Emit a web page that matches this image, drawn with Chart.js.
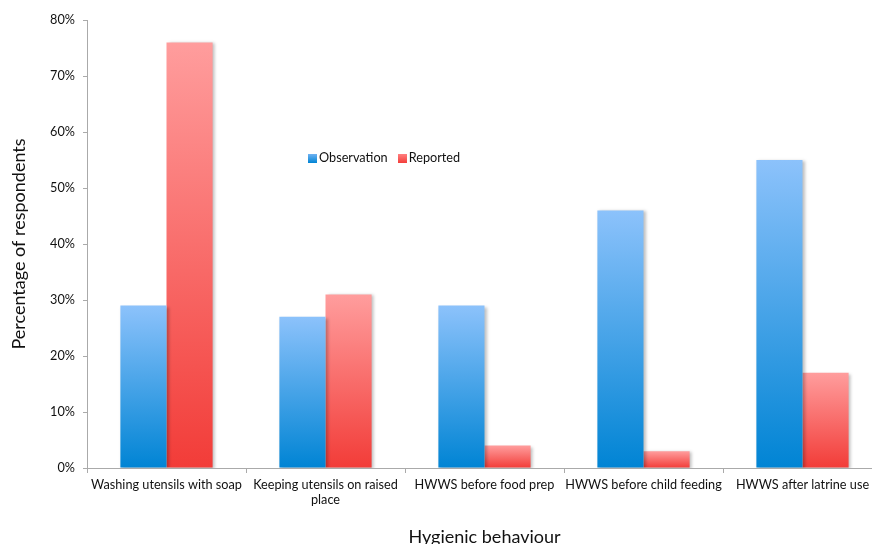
<!DOCTYPE html>
<html>
<head>
<meta charset="utf-8">
<script src="https://cdn.jsdelivr.net/npm/chart.js@4.4.1/dist/chart.umd.min.js"></script>
<style>
    html, body { margin: 0; padding: 0; background: #fff; }
    body { width: 872px; height: 544px; overflow: hidden; position: relative; }
    #wrap { position: absolute; left: 0; top: 0; width: 890px; height: 544px; }
    #legend { position: absolute; left: 308px; top: 149px; font: 12.7px Lato, sans-serif; color: #111; display: flex; gap: 10px; }
    #legend span.box { display: inline-block; width: 9px; height: 9px; margin-right: 2px; vertical-align: -1px; }
</style>
</head>
<body>
<div id="wrap"><canvas id="chart" width="890" height="544"></canvas></div>
<div id="legend">
    <div><span class="box" style="background: linear-gradient(#6fb2f2, #0084d4)"></span>Observation</div>
    <div><span class="box" style="background: linear-gradient(#ff8080, #f33d3a)"></span>Reported</div>
</div>
<script>
// Hygienic behaviour: observed vs reported
const categories = [
    'Washing utensils with soap',
    ['Keeping utensils on raised', 'place'],
    'HWWS before food prep',
    'HWWS before child feeding',
    'HWWS after latrine use'
];
const observation = [29, 27, 29, 46, 55];
const reported = [76, 31, 4, 3, 17];
const yTicks = [0, 10, 20, 30, 40, 50, 60, 70, 80];

function barGradient(top, bottom) {
    return (context) => {
        const chart = context.chart;
        const y = chart.scales.y;
        if (!y || context.parsed === undefined) return bottom;
        const yTop = y.getPixelForValue(context.parsed.y);
        const yBase = y.getPixelForValue(0);
        if (!isFinite(yTop) || !isFinite(yBase) || yTop === yBase) return bottom;
        const g = chart.ctx.createLinearGradient(0, yTop, 0, yBase);
        g.addColorStop(0, top);
        g.addColorStop(1, bottom);
        return g;
    };
}

const shadowPlugin = {
    id: 'barShadow',
    beforeDatasetsDraw(chart) {
        const ctx = chart.ctx;
        ctx.save();
        ctx.shadowColor = 'rgba(0,0,0,0.25)';
        ctx.shadowBlur = 3;
        ctx.shadowOffsetX = 2;
        ctx.shadowOffsetY = 1;
    },
    afterDatasetsDraw(chart) {
        chart.ctx.restore();
    }
};

new Chart(document.getElementById('chart'), {
    type: 'bar',
    data: {
        labels: categories,
        datasets: [{
            label: 'Observation',
            data: observation,
            backgroundColor: barGradient('#8cc2fb', '#0084d4'),
            categoryPercentage: 0.58,
            barPercentage: 1
        }, {
            label: 'Reported',
            data: reported,
            backgroundColor: barGradient('#ff9d9d', '#f23c38'),
            categoryPercentage: 0.58,
            barPercentage: 1
        }]
    },
    options: {
        responsive: false,
        animation: false,
        layout: { padding: { top: 20, right: 8, left: 0, bottom: 0 } },
        plugins: { legend: { display: false }, tooltip: { enabled: false } },
        scales: {
            x: {
                offset: true,
                grid: { display: true, drawOnChartArea: false, offset: true, tickLength: 5, color: '#aaa' },
                border: { color: '#aaa' },
                ticks: { color: '#111', font: { family: 'Lato', size: 12.7 }, padding: 4, maxRotation: 0, autoSkip: false },
                title: { display: true, text: 'Hygienic behaviour', color: '#111', font: { family: 'Lato', size: 18 }, padding: { top: 0, bottom: -4 } },
                afterFit(scale) { scale.height = 76; }
            },
            y: {
                min: 0,
                max: 80,
                afterBuildTicks(scale) { scale.ticks = yTicks.map(v => ({ value: v })); },
                grid: { display: true, drawOnChartArea: false, tickLength: 4, color: '#aaa' },
                border: { color: '#aaa' },
                ticks: { color: '#111', font: { family: 'Lato', size: 12.7 }, padding: 8, callback: v => v + '%' },
                title: { display: true, text: 'Percentage of respondents', color: '#111', font: { family: 'Lato', size: 18 }, padding: { top: 8, bottom: 10 } },
                afterFit(scale) { scale.width = 87; }
            }
        }
    },
    plugins: [shadowPlugin]
});
</script>
</body>
</html>
